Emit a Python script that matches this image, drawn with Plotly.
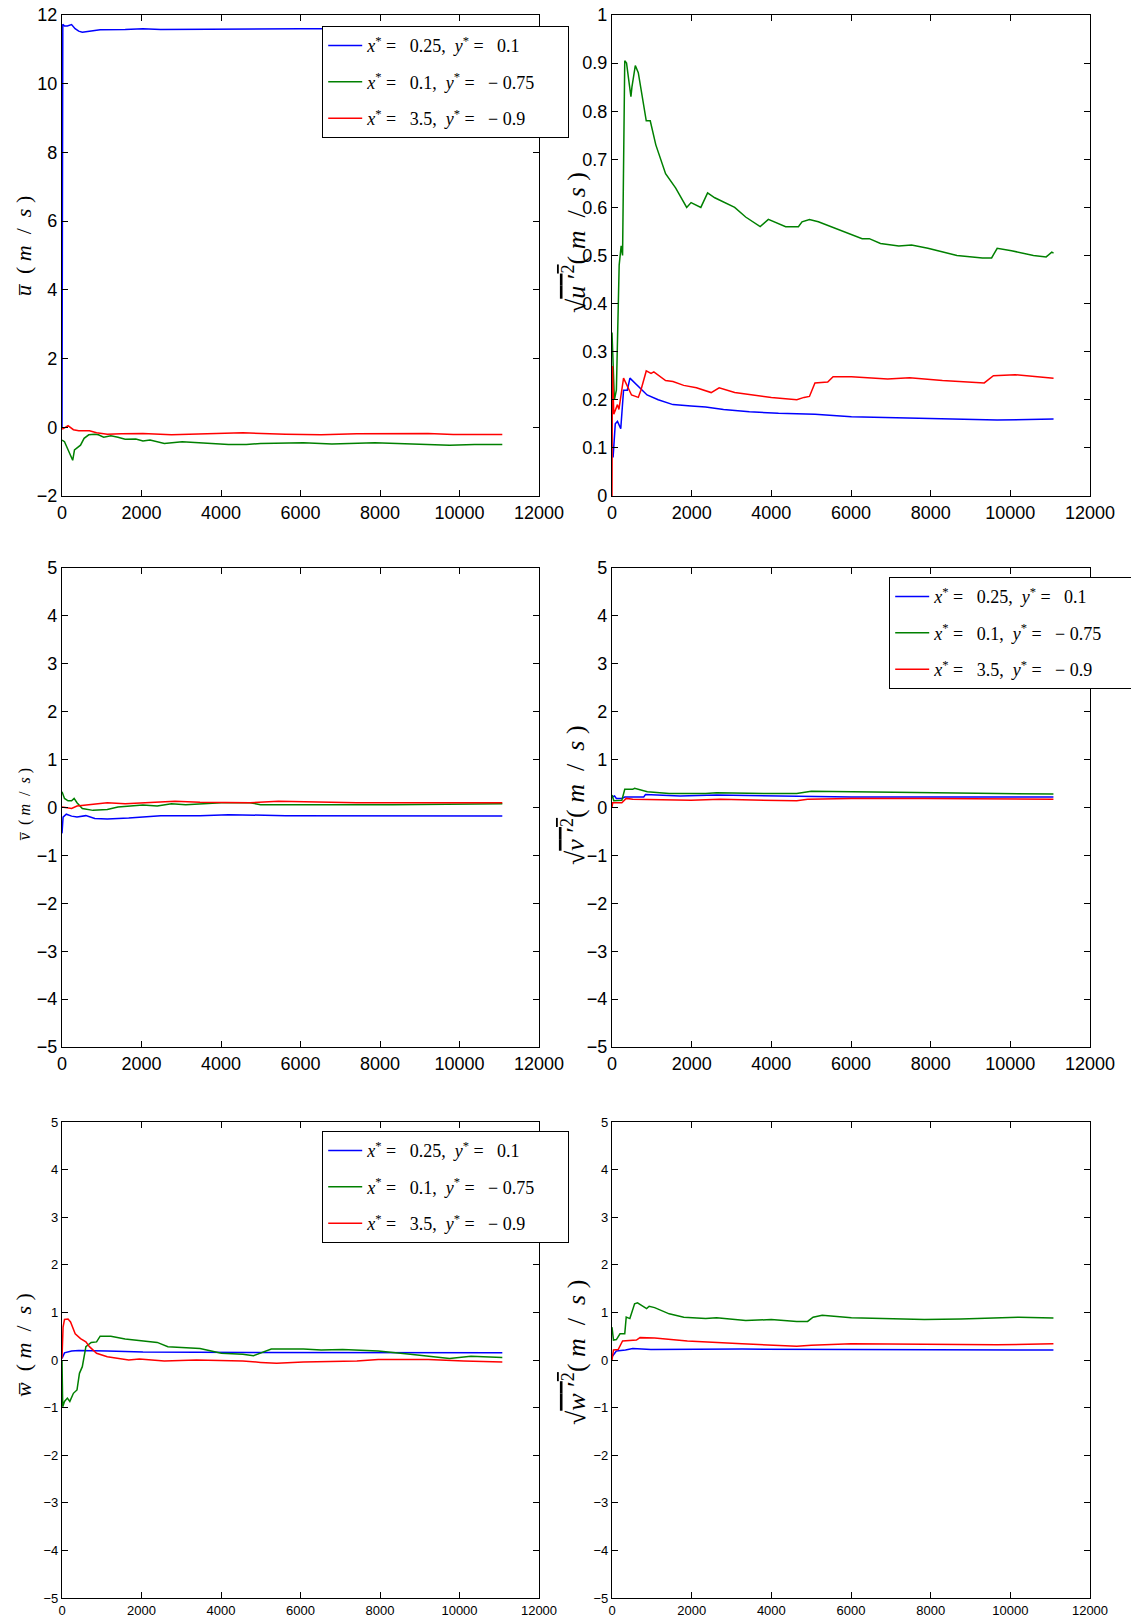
import plotly.graph_objects as go

# ---------------- data ----------------
NB = "\u00a0"
series_names = [
    f"<i>x</i><sup>*</sup>{NB}={NB}{NB}{NB}0.25,{NB}{NB}<i>y</i><sup>*</sup>{NB}={NB}{NB}{NB}0.1" + NB * 6,
    f"<i>x</i><sup>*</sup>{NB}={NB}{NB}{NB}0.1,{NB}{NB}<i>y</i><sup>*</sup>{NB}={NB}{NB}{NB}−{NB}0.75" + NB * 6,
    f"<i>x</i><sup>*</sup>{NB}={NB}{NB}{NB}3.5,{NB}{NB}<i>y</i><sup>*</sup>{NB}={NB}{NB}{NB}−{NB}0.9" + NB * 6,
]
series_colors = ["#0000ff", "#008000", "#ff0000"]

# Panel 1: mean u
p1_blue_x = [0, 10, 20, 63, 135, 240, 330, 420, 511, 690, 960, 1590, 2035, 2480, 3500, 4725, 6000, 7000, 9000, 11080]
p1_blue_y = [0, 11.6, 11.73, 11.68, 11.68, 11.72, 11.6, 11.53, 11.5, 11.53, 11.57, 11.58, 11.6, 11.58, 11.59, 11.6, 11.6, 11.6, 11.6, 11.6]
p1_green_x = [0, 63, 135, 215, 269, 314, 377, 466, 556, 673, 825, 915, 1049, 1229, 1408, 1588, 1857, 2036, 2215, 2574, 3023, 3561, 4189, 4637, 4996, 6072, 6790, 7867, 9212, 9750, 10378, 11077]
p1_green_y = [-0.37, -0.42, -0.61, -0.81, -0.96, -0.66, -0.61, -0.52, -0.32, -0.22, -0.2, -0.22, -0.29, -0.25, -0.29, -0.35, -0.34, -0.4, -0.37, -0.47, -0.42, -0.45, -0.5, -0.5, -0.47, -0.45, -0.49, -0.45, -0.49, -0.52, -0.5, -0.5]
p1_red_x = [0, 45, 152, 287, 422, 690, 870, 1139, 1498, 2036, 2754, 3471, 4548, 5624, 6521, 7418, 9212, 9840, 11077]
p1_red_y = [-0.05, -0.03, 0.05, -0.07, -0.1, -0.1, -0.16, -0.2, -0.19, -0.18, -0.22, -0.19, -0.16, -0.2, -0.22, -0.19, -0.18, -0.21, -0.21]

# Panel 2: rms u'
p2_green_x = [0, 30, 60, 110, 180, 230, 265, 320, 365, 475, 500, 585, 660, 860, 960, 1100, 1345, 1600, 1875, 1985, 2230, 2400, 2580, 3080, 3355, 3720, 3925, 4360, 4680, 4770, 4957, 5180, 5830, 6280, 6460, 6740, 7200, 7520, 7930, 8660, 9300, 9530, 9670, 10030, 10580, 10900, 11040, 11085]
p2_green_y = [0.34, 0.26, 0.2, 0.22, 0.48, 0.52, 0.5, 0.905, 0.9, 0.83, 0.85, 0.895, 0.88, 0.78, 0.78, 0.73, 0.67, 0.64, 0.6, 0.61, 0.6, 0.63, 0.62, 0.6, 0.58, 0.56, 0.575, 0.56, 0.56, 0.57, 0.575, 0.57, 0.55, 0.535, 0.535, 0.525, 0.52, 0.522, 0.515, 0.5, 0.495, 0.495, 0.515, 0.51, 0.5, 0.497, 0.507, 0.505]
p2_red_x = [0, 10, 45, 137, 174, 247, 290, 490, 660, 725, 860, 980, 1050, 1345, 1530, 1800, 2120, 2490, 2690, 3080, 3540, 4000, 4640, 4820, 4957, 5095, 5415, 5550, 6010, 6920, 7470, 8295, 9345, 9575, 10120, 11085]
p2_red_y = [0, 0.27, 0.17, 0.19, 0.18, 0.22, 0.245, 0.21, 0.205, 0.22, 0.26, 0.255, 0.258, 0.24, 0.238, 0.23, 0.225, 0.215, 0.225, 0.215, 0.21, 0.205, 0.2, 0.205, 0.207, 0.235, 0.237, 0.248, 0.248, 0.243, 0.246, 0.24, 0.235, 0.25, 0.252, 0.245]
p2_blue_x = [27, 82, 137, 220, 290, 384, 450, 700, 880, 1160, 1530, 1985, 2350, 2800, 3450, 4180, 5095, 6010, 7380, 8750, 9670, 11085]
p2_blue_y = [0.08, 0.15, 0.155, 0.14, 0.22, 0.22, 0.245, 0.225, 0.21, 0.2, 0.19, 0.187, 0.185, 0.18, 0.175, 0.172, 0.17, 0.165, 0.162, 0.16, 0.158, 0.16]

# Panel 3: mean v
p3_green_x = [0, 63, 152, 242, 305, 377, 511, 780, 1139, 1408, 2036, 2395, 2754, 3112, 4009, 4727, 4996, 6072, 7418, 8315, 11077]
p3_green_y = [0.33, 0.19, 0.14, 0.14, 0.19, 0.1, -0.02, -0.06, -0.04, 0.01, 0.05, 0.03, 0.08, 0.06, 0.1, 0.1, 0.06, 0.06, 0.07, 0.06, 0.08]
p3_red_x = [0, 242, 377, 780, 1139, 1588, 2125, 2843, 3471, 4727, 5445, 6072, 7418, 9212, 11077]
p3_red_y = [0.01, -0.02, 0.03, 0.06, 0.1, 0.08, 0.1, 0.13, 0.11, 0.1, 0.13, 0.12, 0.1, 0.1, 0.1]
p3_blue_x = [0, 27, 108, 242, 377, 601, 825, 1139, 1678, 2036, 2484, 3471, 4189, 5624, 7418, 8942, 11077]
p3_blue_y = [-0.54, -0.2, -0.14, -0.18, -0.2, -0.17, -0.23, -0.24, -0.22, -0.2, -0.17, -0.17, -0.15, -0.17, -0.17, -0.17, -0.18]

# Panel 4: rms v'
p4_green_x = [0, 46, 247, 320, 521, 567, 887, 1436, 2351, 2625, 3814, 4637, 5003, 6010, 7840, 9669, 11082]
p4_green_y = [0.26, 0.14, 0.15, 0.38, 0.38, 0.4, 0.33, 0.29, 0.29, 0.31, 0.29, 0.29, 0.34, 0.33, 0.31, 0.29, 0.28]
p4_blue_x = [0, 64, 110, 247, 320, 796, 841, 1710, 2625, 4180, 5095, 6010, 7840, 11082]
p4_blue_y = [0.22, 0.24, 0.19, 0.19, 0.22, 0.22, 0.27, 0.24, 0.26, 0.24, 0.24, 0.22, 0.22, 0.22]
p4_red_x = [0, 18, 247, 357, 521, 1436, 1984, 2716, 4637, 4911, 6010, 7840, 11082]
p4_red_y = [0.01, 0.1, 0.1, 0.19, 0.17, 0.15, 0.15, 0.17, 0.14, 0.17, 0.19, 0.19, 0.17]

# Panel 5: mean w
p5_red_x = [0, 27, 63, 152, 215, 332, 466, 601, 690, 870, 1139, 1408, 1678, 1947, 2574, 3381, 4548, 4996, 5400, 6072, 7418, 7956, 9212, 10109, 11077]
p5_red_y = [0.03, 0.69, 0.85, 0.86, 0.8, 0.55, 0.45, 0.38, 0.28, 0.14, 0.07, 0.03, 0.0, 0.02, -0.02, 0.0, -0.02, -0.05, -0.07, -0.04, -0.02, 0.01, 0.01, -0.02, -0.04]
p5_green_x = [0, 18, 63, 135, 197, 287, 377, 439, 511, 601, 735, 870, 960, 1229, 1588, 2036, 2395, 2664, 3112, 3471, 4009, 4548, 4817, 5265, 6072, 6521, 7059, 7956, 8763, 9301, 9750, 10288, 11077]
p5_green_y = [0.0, -0.98, -0.87, -0.8, -0.87, -0.7, -0.63, -0.28, -0.14, 0.28, 0.37, 0.38, 0.5, 0.5, 0.44, 0.4, 0.37, 0.28, 0.26, 0.24, 0.14, 0.12, 0.09, 0.23, 0.23, 0.21, 0.22, 0.19, 0.12, 0.07, 0.03, 0.08, 0.05]
p5_blue_x = [0, 63, 242, 422, 1139, 2036, 4727, 7418, 11077]
p5_blue_y = [0.03, 0.15, 0.19, 0.2, 0.19, 0.17, 0.16, 0.16, 0.15]

# Panel 6: rms w'
p6_green_x = [0, 37, 110, 201, 320, 357, 448, 567, 640, 869, 933, 1070, 1436, 1802, 2351, 2625, 3357, 3997, 4637, 4911, 5048, 5277, 6010, 6924, 7840, 8755, 9120, 9669, 10218, 11082]
p6_green_y = [0.69, 0.42, 0.43, 0.55, 0.55, 0.9, 0.87, 1.18, 1.2, 1.08, 1.13, 1.1, 0.97, 0.9, 0.87, 0.89, 0.83, 0.85, 0.81, 0.81, 0.9, 0.94, 0.89, 0.87, 0.85, 0.86, 0.87, 0.88, 0.9, 0.88]
p6_red_x = [0, 37, 155, 265, 613, 704, 1070, 1893, 3265, 4637, 5003, 6010, 7840, 9669, 11082]
p6_red_y = [0.0, 0.21, 0.22, 0.4, 0.42, 0.47, 0.46, 0.4, 0.34, 0.29, 0.31, 0.34, 0.33, 0.32, 0.34]
p6_blue_x = [0, 110, 338, 521, 978, 3265, 6010, 11082]
p6_blue_y = [0.07, 0.19, 0.21, 0.24, 0.22, 0.23, 0.22, 0.21]

x_ticks = [0, 2000, 4000, 6000, 8000, 10000, 12000]
y_ranges = [[-2, 12], [0, 1], [-5, 5], [-5, 5], [-5, 5], [-5, 5]]
y_dticks = [2, 0.1, 1, 1, 1, 1]

OL = "\u0305"
unit = f"({NB}<i>m</i>{NB}{NB}/{NB}{NB}<i>s</i>{NB})"
ovl = "<span style='text-decoration:overline'>"
ylabels = [f"<i>u{OL}</i>{NB}{NB}" + unit,
           f"√{ovl}<i>u</i>{NB}′<sup>2</sup></span>" + unit,
           f"<i>v{OL}</i>{NB}{NB}" + unit,
           f"√{ovl}<i>v</i>{NB}′<sup>2</sup></span>" + unit,
           f"<i>w{OL}</i>{NB}{NB}" + unit,
           f"√{ovl}<i>w</i>{NB}′<sup>2</sup></span>" + unit]

panels = [
    [(p1_blue_x, p1_blue_y), (p1_green_x, p1_green_y), (p1_red_x, p1_red_y)],
    [(p2_blue_x, p2_blue_y), (p2_green_x, p2_green_y), (p2_red_x, p2_red_y)],
    [(p3_blue_x, p3_blue_y), (p3_green_x, p3_green_y), (p3_red_x, p3_red_y)],
    [(p4_blue_x, p4_blue_y), (p4_green_x, p4_green_y), (p4_red_x, p4_red_y)],
    [(p5_blue_x, p5_blue_y), (p5_green_x, p5_green_y), (p5_red_x, p5_red_y)],
    [(p6_blue_x, p6_blue_y), (p6_green_x, p6_green_y), (p6_red_x, p6_red_y)],
]

# ---------------- layout geometry ----------------
W, H = 1131, 1619
col_px = [(62, 539), (612, 1090)]
row_px = [(15, 496), (568, 1047), (1122, 1598)]
legend_of_panel = {0: "legend", 3: "legend2", 4: "legend3"}
legend_pos = {"legend": (322, 26), "legend2": (889, 577), "legend3": (322, 1131)}
label_pos = [(23, 246, 22), (574, 243, 26), (25, 805, 16), (574, 795, 26), (23, 1345, 22), (574, 1353, 26)]
tick_sizes = [18, 18, 18, 18, 13, 13]

fig = go.Figure()
layout = dict(width=W, height=H, margin=dict(l=0, r=0, t=0, b=0, autoexpand=False),
              paper_bgcolor="white", plot_bgcolor="white", showlegend=True,
              font=dict(family="Liberation Sans, Arial, sans-serif", color="black"))

annotations = []
for i, series in enumerate(panels):
    r, c = divmod(i, 2)
    ax = "" if i == 0 else str(i + 1)
    leg = legend_of_panel.get(i)
    for k, (xs, ys) in enumerate(series):
        fig.add_trace(go.Scatter(
            x=xs, y=ys, mode="lines", name=series_names[k],
            line=dict(color=series_colors[k], width=1.5),
            xaxis="x" + ax, yaxis="y" + ax,
            showlegend=leg is not None, legend=leg if leg else "legend",
            legendgroup=f"p{i}s{k}"))
    x0, x1 = col_px[c]
    y0, y1 = row_px[r]
    axstyle = dict(showline=True, linecolor="black", linewidth=1.2, mirror="ticks",
                   ticks="inside", ticklen=6, tickcolor="black", showgrid=False,
                   zeroline=False, tickfont=dict(size=tick_sizes[i], color="black"),
                   automargin=False)
    layout["xaxis" + ax] = dict(axstyle, domain=[x0 / W, x1 / W], range=[0, 12000],
                                tickvals=x_ticks, tickformat="d", anchor="y" + ax)
    layout["yaxis" + ax] = dict(axstyle, domain=[1 - y1 / H, 1 - y0 / H], range=y_ranges[i],
                                dtick=y_dticks[i], tick0=0, anchor="x" + ax)
    lx, ly, fs = label_pos[i]
    annotations.append(dict(text=ylabels[i], xref="paper", yref="paper", x=lx / W, y=1 - ly / H,
                            xanchor="center", yanchor="middle", textangle=-90, showarrow=False,
                            font=dict(family="Liberation Serif, DejaVu Serif, serif", size=fs, color="black")))

for name, (px, py) in legend_pos.items():
    layout[name] = dict(x=px / W, y=1 - py / H, xanchor="left", yanchor="top",
                        bgcolor="white", bordercolor="black", borderwidth=1.2,
                        traceorder="grouped", tracegroupgap=10, itemwidth=34,
                        font=dict(family="Liberation Serif, DejaVu Serif, serif", size=18, color="black"))

layout["annotations"] = annotations
fig.update_layout(**layout)
fig.write_html("out.html", config={"displayModeBar": False},
               post_script="document.body.style.margin='0px';")
